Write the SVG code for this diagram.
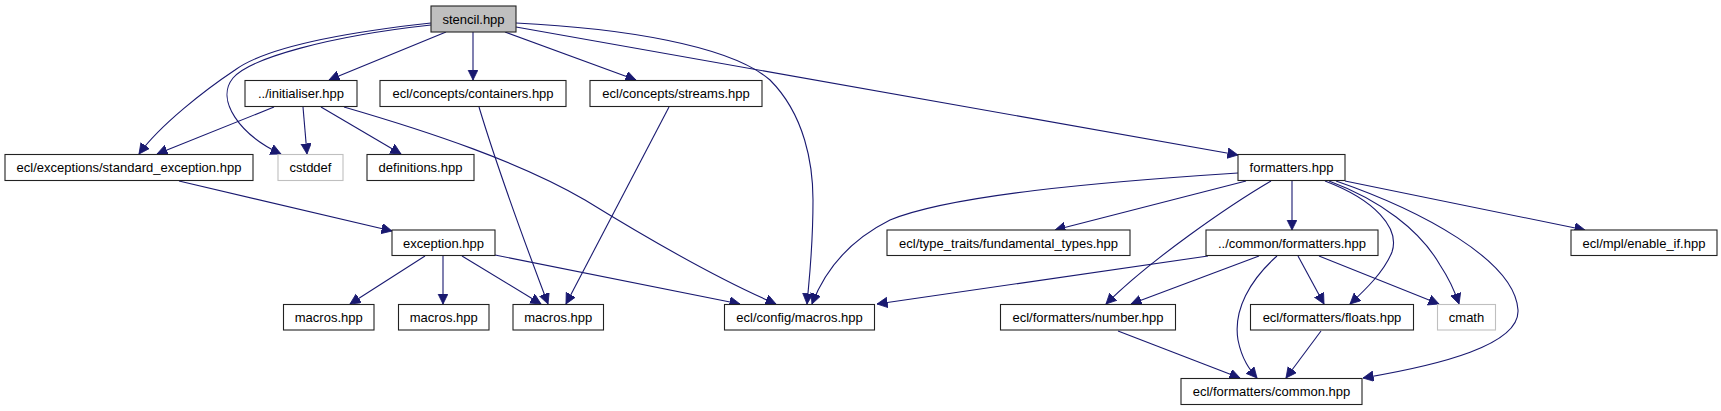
<svg xmlns="http://www.w3.org/2000/svg" width="1721" height="411" viewBox="0 0 1721 411">
<style>
.e{fill:none;stroke:#191970;stroke-width:1.1;marker-end:url(#ah)}
.n rect{fill:#ffffff;stroke:#222222;stroke-width:1.1}
.n.g rect{stroke:#bfbfbf}
.n.r rect{fill:#bfbfbf}
.n text{font-family:"Liberation Sans",Arial,sans-serif;font-size:13px;fill:#000;text-anchor:middle}
</style>
<defs>
<marker id="ah" markerWidth="12" markerHeight="12" refX="10.5" refY="5.2" orient="auto" markerUnits="userSpaceOnUse">
<path d="M0,0 L10.5,5.2 L0,10.4 z" fill="#191970" stroke="#191970" stroke-width="0.8"/>
</marker>
</defs>
<rect width="1721" height="411" fill="#ffffff"/>
<g id="edges">
<path class="e" d="M431,23 C340,33 265,48 235,70 C205,90 160,125 139,154"/>
<path class="e" d="M431,25 C330,36 250,58 233,78 C215,100 240,135 281,154"/>
<path class="e" d="M446,32 L329,80"/>
<path class="e" d="M473,32 L473,80"/>
<path class="e" d="M505,32 L636,80"/>
<path class="e" d="M516,23 C620,28 730,45 770,80 C805,115 813,165 813,200 C813,250 809,280 807,304"/>
<path class="e" d="M516,27 L1238,155"/>
<path class="e" d="M274,107 L157,154"/>
<path class="e" d="M303,107 L307,154"/>
<path class="e" d="M321,107 L401,154"/>
<path class="e" d="M344,107 C430,132 520,162 585,200 C650,240 720,280 776,304"/>
<path class="e" d="M479,107 C495,160 520,230 548,304"/>
<path class="e" d="M669,107 L566,304"/>
<path class="e" d="M179,181 L392,231"/>
<path class="e" d="M425,256 L350,304"/>
<path class="e" d="M443,256 L443,304"/>
<path class="e" d="M462,256 L541,304"/>
<path class="e" d="M495,255 L740,304"/>
<path class="e" d="M1238,173 C1100,182 950,195 890,220 C850,240 825,270 812,304"/>
<path class="e" d="M1246,181 L1055,230"/>
<path class="e" d="M1271,181 C1230,205 1150,260 1106,304"/>
<path class="e" d="M1292,181 L1292,230"/>
<path class="e" d="M1325,181 C1375,200 1400,228 1392,252 C1384,272 1365,290 1350,304"/>
<path class="e" d="M1329,181 C1380,200 1420,230 1440,265 C1450,280 1455,292 1459,304"/>
<path class="e" d="M1336,181 C1420,210 1515,260 1518,310 C1520,345 1440,365 1363,378"/>
<path class="e" d="M1345,181 L1585,230"/>
<path class="e" d="M1208,256 L877,304"/>
<path class="e" d="M1259,256 L1131,304"/>
<path class="e" d="M1277,256 C1250,280 1233,310 1238,340 C1242,360 1250,370 1257,378"/>
<path class="e" d="M1298,256 L1324,304"/>
<path class="e" d="M1319,256 L1439,304"/>
<path class="e" d="M1118,331 L1240,378"/>
<path class="e" d="M1321,331 L1286,378"/>
</g>
<g id="n_stencil" class="n r"><rect x="431" y="6" width="85" height="26"/><text x="473.5" y="23.5">stencil.hpp</text></g>
<g id="n_initialiser" class="n"><rect x="245" y="80.5" width="112" height="26"/><text x="301" y="98">../initialiser.hpp</text></g>
<g id="n_containers" class="n"><rect x="380" y="80.5" width="186" height="26"/><text x="473" y="98">ecl/concepts/containers.hpp</text></g>
<g id="n_streams" class="n"><rect x="590" y="80.5" width="172" height="26"/><text x="676" y="98">ecl/concepts/streams.hpp</text></g>
<g id="n_std_exception" class="n"><rect x="5" y="154.5" width="248" height="26"/><text x="129" y="172">ecl/exceptions/standard_exception.hpp</text></g>
<g id="n_cstddef" class="n g"><rect x="278" y="154.5" width="65" height="26"/><text x="310.5" y="172">cstddef</text></g>
<g id="n_definitions" class="n"><rect x="367" y="154.5" width="107" height="26"/><text x="420.5" y="172">definitions.hpp</text></g>
<g id="n_formatters" class="n"><rect x="1238" y="154.5" width="107" height="26"/><text x="1291.5" y="172">formatters.hpp</text></g>
<g id="n_exception" class="n"><rect x="392" y="230" width="103" height="25.5"/><text x="443.5" y="247.5">exception.hpp</text></g>
<g id="n_fundamental" class="n"><rect x="887" y="230" width="243" height="25.5"/><text x="1008.5" y="247.5">ecl/type_traits/fundamental_types.hpp</text></g>
<g id="n_common_formatters" class="n"><rect x="1206" y="230" width="172" height="25.5"/><text x="1292" y="247.5">../common/formatters.hpp</text></g>
<g id="n_enable_if" class="n"><rect x="1571" y="230" width="146" height="25.5"/><text x="1644" y="247.5">ecl/mpl/enable_if.hpp</text></g>
<g id="n_macros1" class="n"><rect x="283.5" y="304.5" width="90.5" height="25.5"/><text x="328.75" y="322">macros.hpp</text></g>
<g id="n_macros2" class="n"><rect x="398.5" y="304.5" width="90.5" height="25.5"/><text x="443.75" y="322">macros.hpp</text></g>
<g id="n_macros3" class="n"><rect x="513" y="304.5" width="90.5" height="25.5"/><text x="558.25" y="322">macros.hpp</text></g>
<g id="n_config_macros" class="n"><rect x="724.5" y="304.5" width="150" height="25.5"/><text x="799.5" y="322">ecl/config/macros.hpp</text></g>
<g id="n_number" class="n"><rect x="1000.5" y="304.5" width="175" height="25.5"/><text x="1088" y="322">ecl/formatters/number.hpp</text></g>
<g id="n_floats" class="n"><rect x="1250.5" y="304.5" width="163" height="25.5"/><text x="1332" y="322">ecl/formatters/floats.hpp</text></g>
<g id="n_cmath" class="n g"><rect x="1437.5" y="304.5" width="58" height="25.5"/><text x="1466.5" y="322">cmath</text></g>
<g id="n_common" class="n"><rect x="1181" y="378.5" width="181" height="26"/><text x="1271.5" y="396">ecl/formatters/common.hpp</text></g>
</svg>
